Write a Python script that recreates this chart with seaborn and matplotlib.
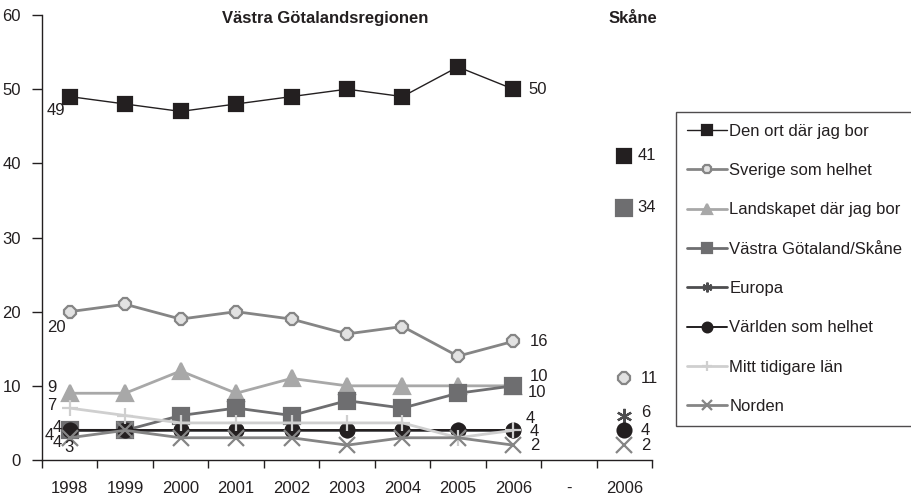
import numpy as np
import pandas as pd
import matplotlib
matplotlib.use("Agg")
import matplotlib.pyplot as plt
import seaborn as sns

sns.set_style("ticks")
plt.rcParams['font.family'] = ['Liberation Sans', 'DejaVu Sans']

# x categories: 1998-2006 Västra Götalandsregionen, gap, 2006 Skåne
categories = ["1998", "1999", "2000", "2001", "2002", "2003", "2004", "2005", "2006", "-", "2006"]
years_vgr = categories[:9]

series_names = ["Den ort där jag bor", "Sverige som helhet", "Landskapet där jag bor",
                "Västra Götaland/Skåne", "Europa", "Världen som helhet",
                "Mitt tidigare län", "Norden"]

den_ort = [49, 48, 47, 48, 49, 50, 49, 53, 50]
sverige = [20, 21, 19, 20, 19, 17, 18, 14, 16]
landskapet = [9, 9, 12, 9, 11, 10, 10, 10, 10]
vastra = [4, 4, 6, 7, 6, 8, 7, 9, 10]
europa = [4, 4, 4, 4, 4, 4, 4, 4, 4]
varlden = [4, 4, 4, 4, 4, 4, 4, 4, 4]
mitt_lan = [7, 6, 5, 5, 5, 5, 5, 3, 4]
norden = [3, 4, 3, 3, 3, 2, 3, 3, 2]

# Skåne 2006 (None = not reported)
skane = [41, 11, None, 34, 6, 4, None, 2]

vgr_values = [den_ort, sverige, landskapet, vastra, europa, varlden, mitt_lan, norden]

# styles
colors = ["#231f20", "#858585", "#a8a8a8", "#6e6e70", "#4d4d4f", "#231f20", "#cfcfcf", "#858585"]
markers = ["s", "8", "^", "s", (6, 2, 0), "o", "+", "x"]
mfcs = ["#231f20", "#e2e2e2", "#a8a8a8", "#6e6e70", "#4d4d4f", "#231f20", "#cfcfcf", "#858585"]
lws = [1.0, 2.0, 2.0, 2.0, 2.0, 1.4, 2.0, 2.0]
msizes = [10, 9, 11, 11, 11, 10, 12, 11]

# label offsets in points (first point, last VGR point, Skåne point)
first_off = [(-16.5, -10), (-16.5, -11.5), (-16.5, 4), (-18, -3.6), (-12, -8.6), (-12, 2), (-16.5, 1.5), (-3.6, -7)]
last_off = [(11, 0), (12, 0), (12, 6.5), (10, -4.5), (9, 8.5), None, (12, -0.5), (12, -0.5)]
skane_off = [(9.5, 0), (12, 0), None, (9.5, 0), (12, 2.5), (12, 0), None, (12, -0.5)]

x_vgr = np.arange(len(years_vgr))
x_skane = len(categories) - 1

fig = plt.figure(figsize=(9.12, 5.0), dpi=100)
ax = fig.add_axes([0.046, 0.08, 0.669, 0.89])

for i, name in enumerate(series_names):
    df = pd.DataFrame({"x": x_vgr, "y": vgr_values[i]})
    sns.lineplot(data=df, x="x", y="y", ax=ax, color=colors[i], lw=lws[i],
                 marker=markers[i], markersize=msizes[i], markerfacecolor=mfcs[i],
                 markeredgecolor=colors[i], markeredgewidth=1.6, label=name)
    if skane[i] is not None:
        dfs = pd.DataFrame({"x": [x_skane], "y": [skane[i]]})
        sns.lineplot(data=dfs, x="x", y="y", ax=ax, color=colors[i], lw=0,
                     marker=markers[i], markersize=msizes[i], markerfacecolor=mfcs[i],
                     markeredgecolor=colors[i], markeredgewidth=1.6, legend=False)

fs = 12
for i in range(len(series_names)):
    vals = vgr_values[i]
    if first_off[i] is not None:
        ax.annotate(str(vals[0]), (x_vgr[0], vals[0]), xytext=first_off[i],
                    textcoords="offset points", ha="left", va="center", fontsize=fs, color="#231f20")
    if last_off[i] is not None:
        ax.annotate(str(vals[-1]), (x_vgr[-1], vals[-1]), xytext=last_off[i],
                    textcoords="offset points", ha="left", va="center", fontsize=fs, color="#231f20")
    if skane[i] is not None and skane_off[i] is not None:
        ax.annotate(str(skane[i]), (x_skane, skane[i]), xytext=skane_off[i],
                    textcoords="offset points", ha="left", va="center", fontsize=fs, color="#231f20")

ax.set_xlim(-0.5, len(categories) - 0.5)
ax.set_ylim(0, 60)
ax.set_yticks(range(0, 61, 10))
ax.set_xticks(np.arange(len(categories)))
ax.set_xticklabels(categories)
ax.set_xticks(np.arange(-0.5, len(categories), 1), minor=True)
ax.tick_params(axis="x", which="major", length=0, pad=15, labelsize=fs, labelcolor="#231f20")
ax.tick_params(axis="x", which="minor", length=6, width=1, color="#231f20", direction="out")
ax.tick_params(axis="y", length=7, width=1, color="#231f20", labelsize=fs, pad=8, labelcolor="#231f20")
ax.set_xlabel("")
ax.set_ylabel("")
for s in ["top", "right"]:
    ax.spines[s].set_visible(False)
for s in ["left", "bottom"]:
    ax.spines[s].set_color("#231f20")
    ax.spines[s].set_linewidth(1)

ax.text(0.464, 0.993, "Västra Götalandsregionen", transform=ax.transAxes, ha="center",
        va="center", fontsize=fs, fontweight="bold", color="#231f20")
ax.text(0.969, 0.993, "Skåne", transform=ax.transAxes, ha="center",
        va="center", fontsize=fs, fontweight="bold", color="#231f20")

leg = ax.legend(loc="upper left", bbox_to_anchor=(0.741, 0.776), bbox_transform=fig.transFigure,
                fontsize=fs, frameon=True, fancybox=False, edgecolor="#231f20",
                labelspacing=1.46, handlelength=2.4, handletextpad=0.1, borderpad=0.7,
                borderaxespad=0)
leg.get_frame().set_linewidth(1)
for t in leg.get_texts():
    t.set_color("#231f20")
for h in leg.legend_handles:
    h.set_markersize(7)

fig.savefig("out.png", dpi=100)
